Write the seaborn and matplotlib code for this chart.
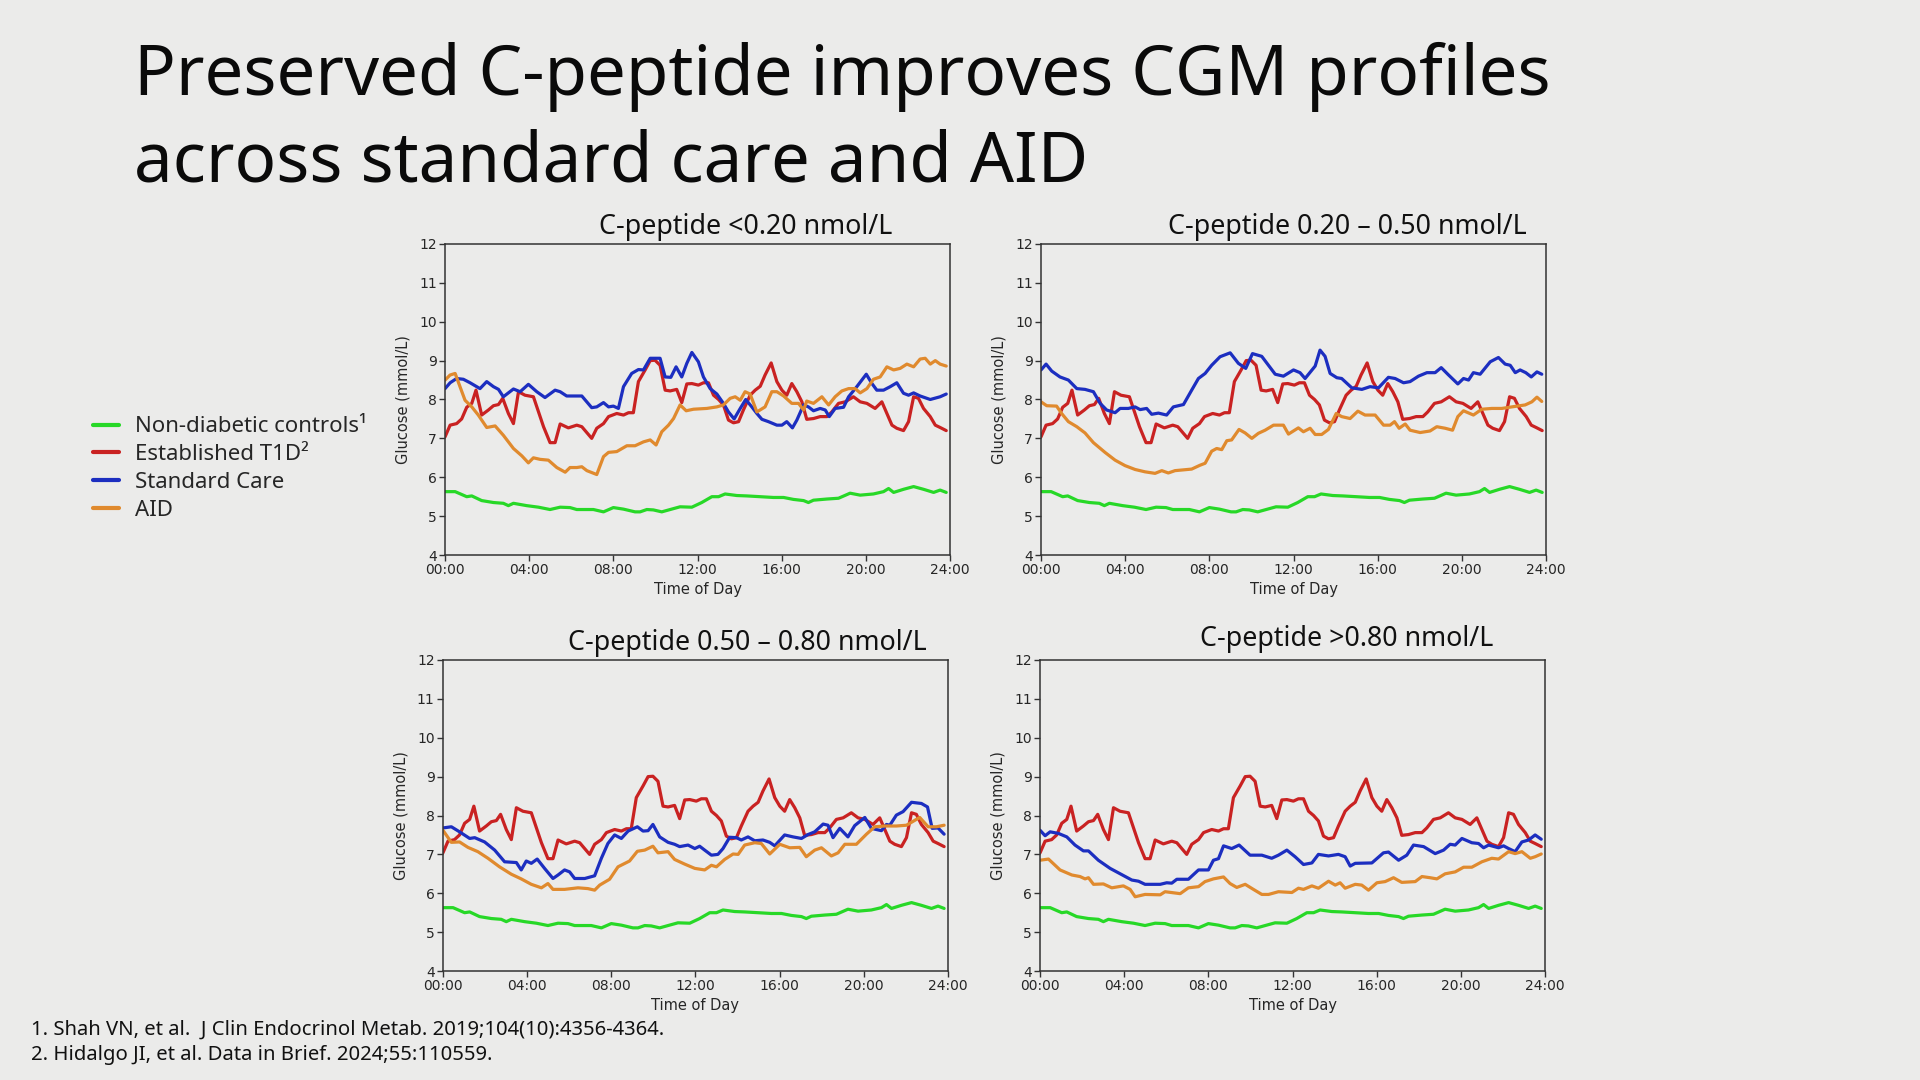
import pandas as pd
import seaborn as sns
import matplotlib.pyplot as plt
from matplotlib.lines import Line2D

# --- data: (hour of day, glucose mmol/L) ---
controls = [(0.00, 5.63), (0.48, 5.63), (1.03, 5.50), (1.27, 5.52), (1.74, 5.40), (2.30, 5.35),
            (2.77, 5.33), (3.01, 5.27), (3.25, 5.33), (3.88, 5.27), (4.44, 5.23), (4.99, 5.17),
            (5.47, 5.23), (5.94, 5.22), (6.26, 5.17), (7.05, 5.17), (7.53, 5.11), (8.00, 5.22),
            (8.48, 5.18), (9.03, 5.11), (9.27, 5.11), (9.59, 5.17), (9.90, 5.16), (10.30, 5.11),
            (10.70, 5.17), (11.17, 5.24), (11.73, 5.23), (12.20, 5.35), (12.68, 5.50), (13.00, 5.50),
            (13.31, 5.57), (13.87, 5.53), (14.34, 5.52), (14.98, 5.50), (15.61, 5.48), (16.09, 5.48),
            (16.56, 5.43), (17.04, 5.40), (17.27, 5.35), (17.51, 5.41), (18.15, 5.44), (18.70, 5.46),
            (19.25, 5.59), (19.73, 5.54), (20.36, 5.57), (20.84, 5.63), (21.08, 5.71), (21.32, 5.61),
            (21.79, 5.69), (22.27, 5.76), (22.74, 5.69), (23.22, 5.61), (23.53, 5.67), (23.82, 5.61)]

t1d = [(0.00, 7.04), (0.24, 7.34), (0.55, 7.38), (0.79, 7.50), (1.03, 7.80), (1.27, 7.90),
       (1.47, 8.24), (1.74, 7.60), (2.06, 7.73), (2.30, 7.84), (2.54, 7.87), (2.74, 8.03),
       (3.01, 7.64), (3.25, 7.38), (3.49, 8.20), (3.80, 8.11), (4.20, 8.07), (4.68, 7.30),
       (4.99, 6.89), (5.23, 6.89), (5.47, 7.37), (5.86, 7.27), (6.26, 7.34), (6.50, 7.30),
       (6.97, 7.00), (7.21, 7.26), (7.53, 7.38), (7.77, 7.56), (8.16, 7.64), (8.48, 7.60),
       (8.72, 7.66), (8.95, 7.66), (9.19, 8.46), (9.51, 8.76), (9.75, 9.00), (9.98, 9.01),
       (10.22, 8.88), (10.46, 8.24), (10.70, 8.22), (11.01, 8.26), (11.25, 7.92), (11.49, 8.40),
       (11.73, 8.41), (12.04, 8.37), (12.28, 8.43), (12.52, 8.43), (12.76, 8.11), (13.00, 8.00),
       (13.23, 7.86), (13.47, 7.47), (13.71, 7.40), (13.95, 7.43), (14.18, 7.73), (14.50, 8.11),
       (14.74, 8.24), (14.98, 8.34), (15.21, 8.63), (15.50, 8.94), (15.77, 8.46), (16.01, 8.24),
       (16.24, 8.11), (16.48, 8.41), (16.72, 8.20), (16.96, 7.94), (17.19, 7.49), (17.51, 7.51),
       (17.83, 7.56), (18.15, 7.56), (18.38, 7.68), (18.70, 7.90), (19.02, 7.94), (19.41, 8.07),
       (19.73, 7.94), (20.05, 7.90), (20.44, 7.77), (20.76, 7.94), (21.00, 7.64), (21.24, 7.34),
       (21.47, 7.26), (21.79, 7.20), (22.03, 7.43), (22.27, 8.07), (22.50, 8.03), (22.74, 7.77),
       (23.06, 7.56), (23.30, 7.34), (23.53, 7.28), (23.82, 7.20)]

# C-peptide <0.20 nmol/L
sc_1 = [(0.00, 8.28), (0.24, 8.43), (0.55, 8.54), (0.87, 8.52), (1.19, 8.43), (1.66, 8.28),
        (1.98, 8.46), (2.30, 8.33), (2.54, 8.26), (2.77, 8.07), (3.25, 8.27), (3.57, 8.20),
        (3.96, 8.39), (4.36, 8.20), (4.75, 8.05), (5.23, 8.24), (5.47, 8.20), (5.78, 8.09),
        (6.50, 8.09), (6.97, 7.79), (7.21, 7.81), (7.53, 7.92), (7.77, 7.81), (8.00, 7.83),
        (8.24, 7.77), (8.48, 8.33), (8.87, 8.67), (9.19, 8.77), (9.43, 8.76), (9.75, 9.06),
        (10.22, 9.06), (10.46, 8.58), (10.73, 8.57), (10.98, 8.84), (11.25, 8.58), (11.49, 8.93),
        (11.73, 9.21), (12.04, 8.97), (12.28, 8.58), (12.60, 8.28), (12.92, 8.14), (13.23, 7.90),
        (13.47, 7.68), (13.74, 7.50), (14.03, 7.77), (14.29, 8.00), (14.58, 7.81), (14.82, 7.64),
        (15.06, 7.49), (15.37, 7.43), (15.77, 7.34), (16.01, 7.34), (16.24, 7.43), (16.51, 7.27),
        (16.72, 7.47), (17.04, 7.86), (17.27, 7.81), (17.51, 7.71), (17.83, 7.77), (18.07, 7.73),
        (18.26, 7.56), (18.54, 7.77), (18.94, 7.80), (19.18, 8.07), (19.57, 8.33), (20.02, 8.65),
        (20.29, 8.41), (20.52, 8.24), (20.84, 8.24), (21.16, 8.33), (21.47, 8.43), (21.79, 8.16),
        (22.03, 8.11), (22.27, 8.17), (22.58, 8.09), (23.06, 8.00), (23.53, 8.07), (23.82, 8.14)]
aid_1 = [(0.00, 8.50), (0.24, 8.63), (0.48, 8.67), (0.71, 8.33), (0.95, 7.98), (1.27, 7.81),
         (1.58, 7.60), (1.98, 7.28), (2.38, 7.32), (2.77, 7.08), (3.25, 6.74), (3.65, 6.55),
         (3.96, 6.37), (4.20, 6.50), (4.52, 6.46), (4.91, 6.44), (5.31, 6.25), (5.71, 6.13),
         (5.94, 6.25), (6.26, 6.25), (6.50, 6.27), (6.74, 6.17), (7.21, 6.07), (7.53, 6.53),
         (7.77, 6.64), (8.16, 6.66), (8.64, 6.81), (9.03, 6.81), (9.43, 6.91), (9.75, 6.96),
         (10.03, 6.83), (10.30, 7.17), (10.62, 7.34), (10.86, 7.51), (11.17, 7.86), (11.46, 7.71),
         (11.81, 7.75), (12.44, 7.77), (12.92, 7.81), (13.23, 7.86), (13.55, 8.03), (13.79, 8.07),
         (14.03, 7.98), (14.26, 8.20), (14.50, 8.14), (14.82, 7.68), (15.21, 7.81), (15.53, 8.20),
         (15.77, 8.20), (16.09, 8.09), (16.48, 7.90), (16.80, 7.90), (17.04, 7.73), (17.19, 7.96),
         (17.51, 7.90), (17.91, 8.07), (18.23, 7.86), (18.54, 8.07), (18.86, 8.22), (19.18, 8.28),
         (19.49, 8.28), (19.73, 8.17), (20.05, 8.28), (20.36, 8.52), (20.68, 8.58), (21.00, 8.84),
         (21.32, 8.76), (21.63, 8.80), (21.95, 8.91), (22.27, 8.84), (22.58, 9.04), (22.82, 9.06),
         (23.06, 8.91), (23.30, 9.00), (23.53, 8.91), (23.82, 8.86)]

# C-peptide 0.20 - 0.50 nmol/L
sc_2 = [(0.00, 8.76), (0.24, 8.91), (0.51, 8.73), (0.90, 8.58), (1.30, 8.50), (1.70, 8.28),
        (2.09, 8.26), (2.49, 8.20), (2.81, 7.90), (3.12, 7.73), (3.52, 7.66), (3.76, 7.77),
        (4.15, 7.77), (4.47, 7.81), (4.71, 7.74), (5.02, 7.77), (5.26, 7.62), (5.58, 7.65),
        (5.97, 7.60), (6.29, 7.81), (6.77, 7.87), (7.16, 8.24), (7.48, 8.54), (7.80, 8.67),
        (8.11, 8.88), (8.51, 9.10), (8.99, 9.20), (9.38, 8.93), (9.73, 8.80), (10.05, 9.18),
        (10.49, 9.11), (10.81, 8.88), (11.13, 8.65), (11.52, 8.60), (12.00, 8.76), (12.31, 8.69),
        (12.55, 8.54), (13.03, 8.86), (13.26, 9.27), (13.50, 9.11), (13.74, 8.67), (14.06, 8.56),
        (14.29, 8.54), (14.77, 8.30), (15.25, 8.26), (15.64, 8.33), (16.04, 8.30), (16.51, 8.57),
        (16.83, 8.54), (17.23, 8.43), (17.54, 8.46), (17.94, 8.60), (18.34, 8.69), (18.73, 8.69),
        (19.02, 8.82), (19.37, 8.63), (19.81, 8.40), (20.08, 8.54), (20.32, 8.50), (20.55, 8.69),
        (20.87, 8.65), (21.35, 8.97), (21.74, 9.08), (22.06, 8.91), (22.30, 8.88), (22.54, 8.69),
        (22.77, 8.76), (23.04, 8.69), (23.30, 8.58), (23.57, 8.71), (23.80, 8.65)]
aid_2 = [(0.00, 7.94), (0.27, 7.84), (0.74, 7.83), (0.98, 7.64), (1.30, 7.43), (1.70, 7.30),
         (2.09, 7.14), (2.49, 6.89), (3.04, 6.64), (3.52, 6.44), (3.99, 6.30), (4.47, 6.20),
         (4.94, 6.14), (5.42, 6.10), (5.74, 6.17), (6.05, 6.11), (6.37, 6.17), (6.77, 6.19),
         (7.16, 6.21), (7.56, 6.31), (7.80, 6.36), (8.11, 6.67), (8.35, 6.74), (8.59, 6.71),
         (8.83, 6.94), (9.06, 6.96), (9.41, 7.23), (9.70, 7.14), (10.02, 7.00), (10.33, 7.13),
         (10.65, 7.21), (11.05, 7.34), (11.52, 7.34), (11.76, 7.11), (12.23, 7.27), (12.47, 7.17),
         (12.79, 7.26), (13.03, 7.10), (13.34, 7.10), (13.66, 7.23), (14.03, 7.64), (14.29, 7.56),
         (14.69, 7.51), (15.06, 7.70), (15.40, 7.60), (15.88, 7.60), (16.28, 7.34), (16.59, 7.34),
         (16.80, 7.43), (17.02, 7.26), (17.31, 7.37), (17.54, 7.21), (18.02, 7.15), (18.49, 7.19),
         (18.81, 7.30), (19.21, 7.26), (19.56, 7.21), (19.81, 7.56), (20.08, 7.71), (20.55, 7.60),
         (20.95, 7.75), (21.43, 7.77), (21.90, 7.77), (22.38, 7.81), (23.01, 7.86), (23.33, 7.94),
         (23.57, 8.06), (23.80, 7.95)]

# C-peptide 0.50 - 0.80 nmol/L
sc_3 = [(0.00, 7.68), (0.40, 7.71), (0.79, 7.58), (1.27, 7.41), (1.51, 7.43), (1.98, 7.32),
        (2.46, 7.11), (2.93, 6.81), (3.49, 6.79), (3.72, 6.60), (3.96, 6.83), (4.20, 6.77),
        (4.48, 6.88), (4.83, 6.64), (5.23, 6.38), (5.47, 6.47), (5.78, 6.60), (6.02, 6.55),
        (6.26, 6.38), (6.74, 6.38), (7.21, 6.45), (7.53, 6.90), (7.84, 7.28), (8.16, 7.50),
        (8.48, 7.41), (8.80, 7.60), (9.24, 7.71), (9.51, 7.60), (9.75, 7.61), (9.98, 7.77),
        (10.30, 7.45), (10.70, 7.31), (11.01, 7.26), (11.25, 7.20), (11.65, 7.24), (11.97, 7.15),
        (12.20, 7.21), (12.44, 7.11), (12.76, 6.98), (13.07, 7.00), (13.31, 7.15), (13.63, 7.44),
        (13.95, 7.43), (14.18, 7.37), (14.50, 7.45), (14.82, 7.35), (15.21, 7.37), (15.53, 7.31),
        (15.77, 7.22), (16.24, 7.50), (16.64, 7.45), (17.04, 7.41), (17.35, 7.51), (17.67, 7.58),
        (18.07, 7.78), (18.30, 7.75), (18.54, 7.43), (18.86, 7.67), (19.25, 7.45), (19.57, 7.74),
        (20.05, 7.95), (20.36, 7.67), (20.84, 7.61), (21.08, 7.77), (21.24, 7.75), (21.55, 8.01),
        (21.87, 8.10), (22.27, 8.34), (22.74, 8.31), (23.03, 8.22), (23.25, 7.67), (23.53, 7.68),
        (23.82, 7.52)]
aid_3 = [(0.00, 7.62), (0.40, 7.31), (0.79, 7.32), (1.19, 7.18), (1.66, 7.07), (2.14, 6.90),
         (2.69, 6.68), (3.25, 6.49), (3.72, 6.37), (4.20, 6.23), (4.68, 6.14), (4.99, 6.25),
         (5.23, 6.10), (5.78, 6.10), (6.42, 6.14), (6.89, 6.12), (7.21, 6.08), (7.45, 6.21),
         (7.92, 6.36), (8.32, 6.68), (8.87, 6.83), (9.24, 7.08), (9.59, 7.11), (9.98, 7.21),
         (10.22, 7.04), (10.70, 7.07), (11.01, 6.87), (11.49, 6.75), (11.97, 6.64), (12.44, 6.60),
         (12.76, 6.72), (13.00, 6.68), (13.39, 6.87), (13.79, 7.01), (14.03, 7.00), (14.34, 7.24),
         (14.82, 7.30), (15.13, 7.28), (15.53, 7.01), (16.01, 7.26), (16.48, 7.17), (16.96, 7.18),
         (17.27, 6.94), (17.67, 7.11), (17.99, 7.17), (18.46, 6.96), (18.78, 7.04), (19.10, 7.26),
         (19.65, 7.26), (20.13, 7.52), (20.52, 7.71), (21.00, 7.73), (21.55, 7.73), (22.03, 7.75),
         (22.66, 7.95), (23.06, 7.71), (23.45, 7.71), (23.82, 7.75)]

# C-peptide >0.80 nmol/L
sc_4 = [(0.00, 7.62), (0.24, 7.48), (0.48, 7.58), (0.87, 7.54), (1.27, 7.45), (1.66, 7.24),
        (2.06, 7.09), (2.30, 7.09), (2.77, 6.85), (3.33, 6.64), (3.88, 6.48), (4.36, 6.34),
        (4.68, 6.31), (4.99, 6.23), (5.71, 6.23), (6.02, 6.27), (6.26, 6.26), (6.50, 6.36),
        (7.05, 6.36), (7.53, 6.60), (8.00, 6.60), (8.24, 6.85), (8.48, 6.89), (8.72, 7.22),
        (9.11, 7.15), (9.46, 7.24), (9.98, 6.98), (10.54, 6.98), (11.01, 6.90), (11.33, 6.98),
        (11.73, 7.11), (12.12, 6.94), (12.52, 6.74), (12.92, 6.78), (13.23, 7.00), (13.71, 6.96),
        (14.18, 7.00), (14.50, 6.94), (14.74, 6.70), (14.98, 6.77), (15.77, 6.78), (16.32, 7.04),
        (16.56, 7.06), (17.04, 6.85), (17.43, 6.98), (17.75, 7.24), (18.23, 7.20), (18.78, 7.02),
        (19.18, 7.11), (19.49, 7.26), (19.73, 7.24), (20.05, 7.41), (20.52, 7.30), (20.84, 7.28),
        (21.08, 7.17), (21.32, 7.24), (21.79, 7.17), (22.03, 7.22), (22.27, 7.15), (22.58, 7.07),
        (22.90, 7.32), (23.22, 7.37), (23.53, 7.50), (23.82, 7.39)]
aid_4 = [(0.00, 6.85), (0.40, 6.88), (0.95, 6.60), (1.51, 6.47), (1.90, 6.43), (2.14, 6.37),
         (2.30, 6.40), (2.54, 6.23), (3.01, 6.24), (3.41, 6.14), (3.96, 6.19), (4.28, 6.10),
         (4.52, 5.91), (4.99, 5.97), (5.71, 5.96), (5.94, 6.04), (6.66, 5.99), (7.05, 6.14),
         (7.53, 6.17), (7.84, 6.30), (8.24, 6.37), (8.72, 6.42), (9.03, 6.25), (9.35, 6.15),
         (9.75, 6.23), (10.14, 6.10), (10.54, 5.97), (10.86, 5.97), (11.33, 6.04), (11.97, 6.02),
         (12.28, 6.13), (12.52, 6.10), (12.92, 6.19), (13.23, 6.13), (13.71, 6.31), (14.03, 6.21),
         (14.26, 6.27), (14.50, 6.13), (14.98, 6.23), (15.29, 6.21), (15.61, 6.08), (16.01, 6.27),
         (16.40, 6.30), (16.80, 6.40), (17.19, 6.28), (17.83, 6.30), (18.15, 6.43), (18.54, 6.40),
         (18.86, 6.37), (19.25, 6.50), (19.73, 6.55), (20.13, 6.67), (20.52, 6.67), (21.00, 6.81),
         (21.47, 6.90), (21.79, 6.88), (22.27, 7.07), (22.58, 7.02), (22.90, 7.07), (23.30, 6.90),
         (23.53, 6.94), (23.82, 7.01)]

panel_titles = ["C-peptide <0.20 nmol/L", "C-peptide 0.20 \u2013 0.50 nmol/L",
                "C-peptide 0.50 \u2013 0.80 nmol/L", "C-peptide >0.80 nmol/L"]
panel_sc = [sc_1, sc_2, sc_3, sc_4]
panel_aid = [aid_1, aid_2, aid_3, aid_4]

groups = ["Non-diabetic controls", "Established T1D", "Standard Care", "AID"]
legend_labels = ["Non-diabetic controls\u00b9", "Established T1D\u00b2", "Standard Care", "AID"]
colors = ["#27d827", "#c92222", "#1c2ec0", "#e08a2e"]
palette = dict(zip(groups, colors))

hour_ticks = [0, 4, 8, 12, 16, 20, 24]
hour_labels = ["00:00", "04:00", "08:00", "12:00", "16:00", "20:00", "24:00"]
glucose_ticks = [4, 5, 6, 7, 8, 9, 10, 11, 12]

title_font = ["Noto Sans", "DejaVu Sans"]
bg = "#ebebea"


def panel_frame(sc, aid):
    rows = []
    for name, pts in zip(groups, [controls, t1d, sc, aid]):
        for t, g in pts:
            rows.append({"time": t, "glucose": g, "group": name})
    return pd.DataFrame(rows)


sns.set_style("ticks")
plt.rcParams["font.family"] = ["DejaVu Sans"]

fig = plt.figure(figsize=(19.2, 10.8), dpi=100, facecolor=bg)

# axes boxes in figure fractions
boxes = [(0.2318, 0.4861), (0.5422, 0.4861), (0.2307, 0.1009), (0.5417, 0.1009)]
title_pos = [(0.3885, 0.790), (0.7015, 0.790), (0.389, 0.405), (0.7015, 0.408)]

for i in range(4):
    ax = fig.add_axes([boxes[i][0], boxes[i][1], 0.263, 0.288])
    ax.set_facecolor(bg)
    df = panel_frame(panel_sc[i], panel_aid[i])
    sns.lineplot(data=df, x="time", y="glucose", hue="group", hue_order=groups,
                 palette=palette, estimator=None, sort=False, linewidth=2.3,
                 legend=False, ax=ax)
    ax.set_xlim(0, 24)
    ax.set_ylim(4, 12)
    ax.set_xticks(hour_ticks)
    ax.set_xticklabels(hour_labels)
    ax.set_yticks(glucose_ticks)
    ax.tick_params(labelsize=10, color="#333333", length=4, width=1, pad=2)
    ax.set_xlabel("Time of Day", fontsize=10.5, labelpad=3)
    ax.set_ylabel("Glucose (mmol/L)", fontsize=10.5, labelpad=6)
    for s in ax.spines.values():
        s.set_visible(True)
        s.set_color("#333333")
        s.set_linewidth(1.1)
    fig.text(title_pos[i][0], title_pos[i][1], panel_titles[i], ha="center", va="center",
             fontsize=19.3, family=title_font, color="#111111")

# slide title
fig.text(0.070, 0.929, "Preserved C-peptide improves CGM profiles", ha="left", va="center",
         fontsize=49.8, family=title_font, color="#0a0a0a")
fig.text(0.070, 0.849, "across standard care and AID", ha="left", va="center",
         fontsize=49.8, family=title_font, color="#0a0a0a")

# legend at the left
handles = [Line2D([0], [0], color=c, linewidth=3) for c in colors]
fig.legend(handles, legend_labels, loc="upper left", bbox_to_anchor=(0.038, 0.633),
           frameon=False, handlelength=1.15, handletextpad=0.75,
           labelspacing=0.31, prop={"family": title_font, "size": 16})

# footnotes
fig.text(0.016, 0.047, "1. Shah VN, et al.  J Clin Endocrinol Metab. 2019;104(10):4356-4364.",
         ha="left", va="center", fontsize=14.6, family=title_font, color="#111111")
fig.text(0.016, 0.023, "2. Hidalgo JI, et al. Data in Brief. 2024;55:110559.",
         ha="left", va="center", fontsize=14.6, family=title_font, color="#111111")

fig.savefig("out.png", dpi=100, facecolor=bg)
